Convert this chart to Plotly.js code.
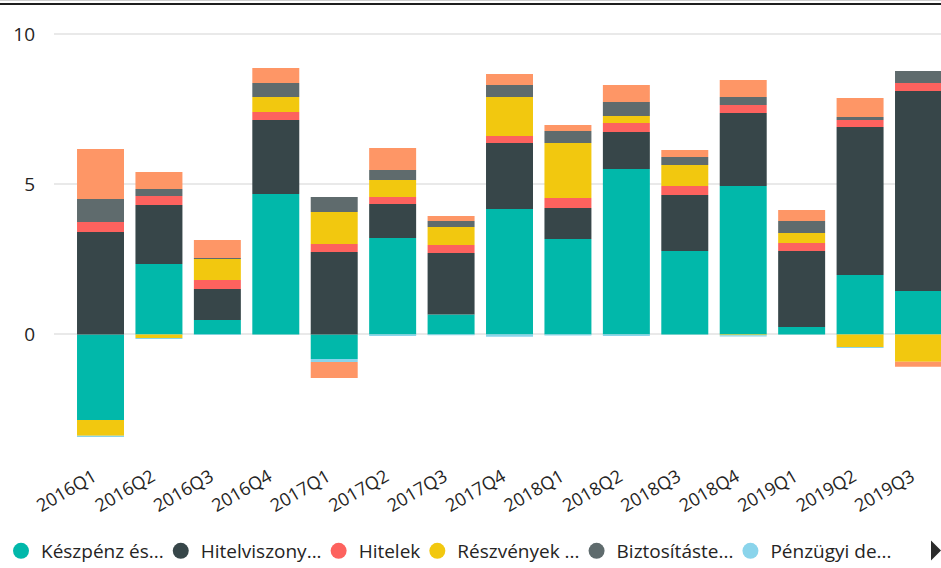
<!DOCTYPE html>
<html>
<head>
<meta charset="utf-8">
<script src="https://cdn.plot.ly/plotly-3.0.1.min.js"></script>
<style>
  html, body { margin: 0; padding: 0; background: #fff; }
  #wrap { position: relative; width: 941px; height: 568px; overflow: hidden; }
  #chart { width: 941px; height: 568px; }
  #topline { position: absolute; left: 0; top: 0; width: 941px; height: 5px;
             border-top: 1px solid #cfcfcf; box-sizing: border-box; }
  #topline div { position: absolute; left: 0; top: 2px; width: 941px; height: 2px; background: #1e1e1e; }
</style>
</head>
<body>
<div id="wrap">
  <div id="chart"></div>
  <div id="topline"><div></div></div>
</div>
<script>
const quarters = ["2016Q1","2016Q2","2016Q3","2016Q4","2017Q1","2017Q2","2017Q3","2017Q4",
                  "2018Q1","2018Q2","2018Q3","2018Q4","2019Q1","2019Q2","2019Q3"];

const seriesNames = ["Készpénz és...", "Hitelviszony...", "Hitelek", "Részvények ...",
                     "Biztosításte...", "Pénzügyi de...", "Egyéb"];

// Készpénz és betétek
const keszpenz    = [-2.85, 2.35, 0.48, 4.68, -0.82, 3.21, 0.66, 4.18, 3.18, 5.51, 2.78, 4.95, 0.25, 1.98, 1.45];
// Hitelviszonyt megtestesítő értékpapírok
const hitelviszony = [3.41, 1.96, 1.03, 2.47, 2.75, 1.14, 2.05, 2.20, 1.03, 1.24, 1.87, 2.43, 2.53, 4.93, 6.66];
// Hitelek
const hitelek     = [0.34, 0.30, 0.30, 0.26, 0.26, 0.23, 0.27, 0.23, 0.34, 0.30, 0.30, 0.27, 0.27, 0.24, 0.27];
// Részvények
const reszvenyek  = [-0.53, -0.12, 0.70, 0.50, 1.07, 0.57, 0.60, 1.30, 1.83, 0.23, 0.70, -0.03, 0.33, -0.42, -0.91];
// Biztosítástechnikai tartalékok
const biztositas  = [0.76, 0.24, 0.04, 0.47, 0.50, 0.33, 0.20, 0.40, 0.40, 0.47, 0.26, 0.26, 0.40, 0.10, 0.40];
// Pénzügyi derivatívák
const penzugyi    = [-0.04, -0.03, -0.02, 0.00, -0.10, -0.05, -0.03, -0.08, -0.04, -0.05, 0.00, -0.04, 0.00, -0.03, 0.00];
// Egyéb
const egyeb       = [1.67, 0.56, 0.60, 0.50, -0.53, 0.73, 0.17, 0.37, 0.20, 0.56, 0.24, 0.57, 0.37, 0.63, -0.17];

const yTickVals = [0, 5, 10];

const seriesValues = [keszpenz, hitelviszony, hitelek, reszvenyek, biztositas, penzugyi, egyeb];
const colors = ["#01B8AA", "#374649", "#FD625E", "#F2C80F", "#5F6B6D", "#8AD4EB", "#FE9666"];
const inLegend = [true, true, true, true, true, true, false];

const font = "'Segoe UI', 'Open Sans', 'Noto Sans', sans-serif";

const traces = [];
seriesValues.forEach((vals, i) => {
  traces.push({
    type: "bar",
    x: quarters,
    y: vals,
    name: seriesNames[i],
    marker: { color: colors[i], line: { width: 0 } },
    legendgroup: "g" + i,
    showlegend: false,
    hoverinfo: "x+y+name"
  });
});
seriesValues.forEach((vals, i) => {
  if (!inLegend[i]) return;
  traces.push({
    type: "scatter",
    mode: "markers",
    x: [null],
    y: [null],
    name: seriesNames[i],
    legendgroup: "g" + i,
    marker: { color: colors[i], size: 20, symbol: "circle" },
    showlegend: true
  });
});

// paper-coordinate helpers for the legend scroll arrow (plot area: full width, 20..440 px)
const px = v => v / 941;
const py = v => (440 - v) / 420;

const layout = {
  width: 941,
  height: 568,
  margin: { l: 0, r: 0, t: 20, b: 128 },
  paper_bgcolor: "#ffffff",
  plot_bgcolor: "#ffffff",
  barmode: "relative",
  bargap: 0.196,
  font: { family: font, color: "#252423", size: 19 },
  xaxis: {
    type: "category",
    domain: [54 / 941, 1],
    range: [-0.796, 14.385],
    tickangle: -30,
    showgrid: false,
    zeroline: false,
    showline: false,
    ticks: "",
    tickfont: { family: font, size: 18, color: "#252423" },
    ticklabelstandoff: 22,
    ticklabelshift: -7
  },
  yaxis: {
    range: [-3.52, 10.48],
    tickvals: yTickVals,
    ticktext: yTickVals.map(String),
    showgrid: true,
    gridcolor: "#e9e9e9",
    gridwidth: 2,
    zeroline: true,
    zerolinecolor: "#e9e9e9",
    zerolinewidth: 2,
    showline: false,
    ticks: "",
    tickfont: { family: font, size: 19, color: "#252423" },
    ticklabelstandoff: 18
  },
  showlegend: true,
  legend: {
    orientation: "h",
    xref: "container",
    yref: "container",
    x: 9 / 941,
    xanchor: "left",
    y: 0.030,
    yanchor: "middle",
    indentation: -8,
    font: { family: font, size: 19, color: "#252423" },
    itemsizing: "trace",
    tracegroupgap: 0,
    bgcolor: "rgba(0,0,0,0)"
  },
  shapes: [{
    type: "path",
    xref: "paper",
    yref: "paper",
    path: `M ${px(931)} ${py(540.5)} L ${px(941)} ${py(550.5)} L ${px(931)} ${py(560.5)} Z`,
    fillcolor: "#2b2b2b",
    line: { width: 0 }
  }]
};

Plotly.newPlot("chart", traces, layout, { displayModeBar: false, staticPlot: true });
</script>
</body>
</html>
